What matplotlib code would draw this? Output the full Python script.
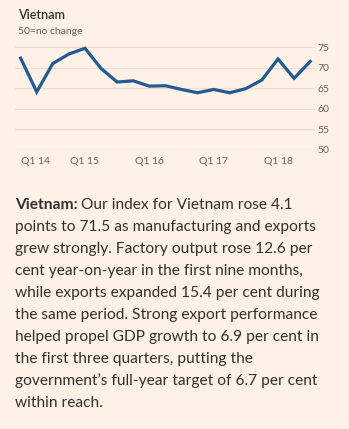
import matplotlib.pyplot as plt

quarters = ['Q1 14', 'Q2 14', 'Q3 14', 'Q4 14', 'Q1 15', 'Q2 15', 'Q3 15', 'Q4 15',
            'Q1 16', 'Q2 16', 'Q3 16', 'Q4 16', 'Q1 17', 'Q2 17', 'Q3 17', 'Q4 17',
            'Q1 18', 'Q2 18', 'Q3 18']
index_values = [72.3, 64.1, 71.0, 73.3, 74.7, 69.8, 66.5, 66.8, 65.5, 65.6, 64.7,
                63.9, 64.7, 63.9, 64.9, 67.0, 72.1, 67.4, 71.5]
y_ticks = [50, 55, 60, 65, 70, 75]
x_label_pos = [0, 4, 8, 12, 16]

body_lines = [
    "Our index for Vietnam rose 4.1",
    "points to 71.5 as manufacturing and exports",
    "grew strongly. Factory output rose 12.6 per",
    "cent year-on-year in the first nine months,",
    "while exports expanded 15.4 per cent during",
    "the same period. Strong export performance",
    "helped propel GDP growth to 6.9 per cent in",
    "the first three quarters, putting the",
    "government\u2019s full-year target of 6.7 per cent",
    "within reach.",
]

bg = '#FFF1E5'
dark = '#33302E'
grey = '#66605C'

W, H = 349, 429
fig = plt.figure(figsize=(W / 100, H / 100), dpi=100, facecolor=bg)

ax = fig.add_axes([15 / W, 1 - 150 / H, 300 / W, (150 - 42.9) / H])
ax.set_facecolor(bg)
x = list(range(len(quarters)))
ax.plot(x, index_values, color='#245A94', lw=2.3, solid_joinstyle='miter', zorder=3)
ax.set_xlim(-0.35, 18.3)
ax.set_ylim(50, 76)

for v in y_ticks:
    ax.axhline(v, color='#B8AEA6' if v == 50 else '#EBDDD0', lw=0.8, zorder=1)

ax.yaxis.tick_right()
ax.set_yticks(y_ticks)
ax.set_yticklabels([str(v) for v in y_ticks], fontsize=7.5, color=grey, family='Lato')
ax.tick_params(axis='y', length=0, pad=2)
ax.set_xticks(x_label_pos)
lbls = ax.set_xticklabels([quarters[i] for i in x_label_pos], fontsize=7.5, color=grey, family='Lato')
lbls[0].set_horizontalalignment('left')
ax.tick_params(axis='x', length=0, pad=5)
for s in ax.spines.values():
    s.set_visible(False)

fig.text(18 / W, 1 - 15 / H, 'Vietnam', fontsize=9, color=dark, family='Lato',
         weight='semibold', va='center')
fig.text(18 / W, 1 - 32 / H, '50=no change', fontsize=7.5, color=grey, family='Lato', va='center')

# body text, one line at a time
fs = 11.2
y0 = 205
step = 22
renderer = fig.canvas.get_renderer()
head = fig.text(15 / W, 1 - y0 / H, 'Vietnam:', fontsize=fs, color=dark, family='Lato',
                weight='bold', va='center')
bb = head.get_window_extent(renderer)
for i, line in enumerate(body_lines):
    xpos = (bb.x1 + 3) / W if i == 0 else 15 / W
    fig.text(xpos, 1 - (y0 + i * step) / H, line, fontsize=fs, color=dark,
             family='Lato', va='center')

fig.savefig('out.png', dpi=100, facecolor=bg)
